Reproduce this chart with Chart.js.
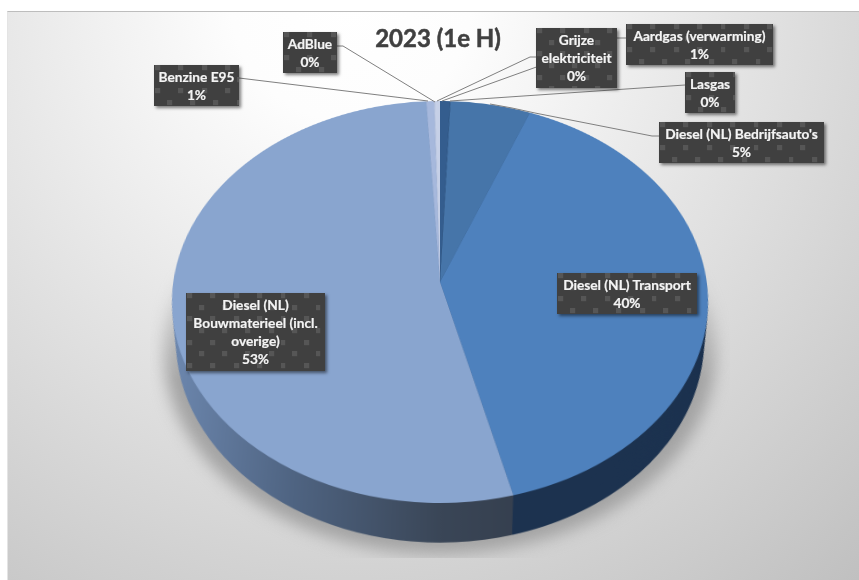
<!DOCTYPE html>
<html>
<head>
<meta charset="utf-8">
<title>2023 (1e H)</title>
<script src="https://cdn.jsdelivr.net/npm/chart.js@4"></script>
<style>
  html, body { margin: 0; padding: 0; background: #fff; overflow: hidden; }
  #stage { position: relative; width: 859px; height: 580px; overflow: hidden; font-family: Lato, "Open Sans", sans-serif; }
  #plate {
    position: absolute; left: 7px; top: 11px; right: 0; bottom: 0;
    border-left: 1px solid #e4e4e4; border-top: 1px solid #bdbdbd;
    background: radial-gradient(circle 800px at 343px -11px, #fff 0%, #fdfdfd 15%, #bdbdbd 100%);
  }
  #shadowBox { position: absolute; left: 150px; top: 200px; width: 580px; height: 358px; overflow: hidden;
    -webkit-mask-image: linear-gradient(to bottom, transparent 50px, #000 180px); mask-image: linear-gradient(to bottom, transparent 50px, #000 180px); }
  #shadowDisc { position: absolute; left: 14px; top: -50px; width: 552px; height: 404px; border-radius: 50%; background: #a3a3a3; filter: blur(8px); }
  #chart { position: absolute; left: 140px; top: -18px; transform-origin: 300px 300px; }
  #leaders { position: absolute; left: 0; top: 0; }
  #title { position: absolute; left: 338px; top: 22px; width: 200px; text-align: center; font-size: 24px; font-weight: 700; color: #404040; line-height: 32px; -webkit-text-stroke: 0.5px #404040; }
  .tag {
    position: absolute; box-sizing: border-box; color: #f4f4f4; font-size: 13.7px; font-weight: 700; line-height: 18px;
    text-align: center; padding: 3px 2px 0; background-color: #404040;
    background-image: url("data:image/svg+xml,%3Csvg xmlns='http://www.w3.org/2000/svg' width='23.4' height='23.4'%3E%3Crect x='1' y='0' width='5' height='5' fill='%23565656'/%3E%3Crect x='12.7' y='11.7' width='5' height='5' fill='%23565656'/%3E%3C/svg%3E");
    box-shadow: 2px 2px 3px rgba(0,0,0,.5);
    -webkit-text-stroke: 0.2px #f4f4f4;
  }
</style>
</head>
<body>
<div id="stage">
  <div id="plate"></div>
  <div id="shadowBox"><div id="shadowDisc"></div></div>
  <canvas id="chart" width="600" height="700"></canvas>
  <svg id="leaders" width="859" height="580"></svg>
  <div id="title"></div>
</div>
<script>
const chartTitle = "2023 (1e H)";
const categories = ["Aardgas (verwarming)", "Lasgas", "Diesel (NL) Bedrijfsauto's", "Diesel (NL) Transport", "Diesel (NL) Bouwmaterieel (incl. overige)", "Benzine E95", "AdBlue", "Grijze elektriciteit"];
const shares = [0.65, 0.05, 5.3, 40, 53.1, 0.5, 0.05, 0.35];
const shareLabels = ["1%", "0%", "5%", "40%", "53%", "1%", "0%", "0%"];

// looks
const topColors = ["#345d8e", "#3a6698", "#4675a9", "#4e81bd", "#89a5cf", "#a6b8dc", "#bcc8e3", "#c6d0e7"];
const wallColors = ["#1a2c46", "#1a2c46", "#1a2c46", "#1d3350", null, "#6c86ad", "#6c86ad", "#6c86ad"];

// label boxes [left, top, width, height], same order as categories
const tagBoxes = [
  [626, 24, 147, 41], [685, 72, 50, 41], [659, 122, 165, 41], [557, 273, 140, 41],
  [186, 293, 139, 78], [154, 65, 85, 41], [283, 32, 54, 41], [536, 28, 81, 60]
];
const leaderLines = [
  [[626, 38], [617, 38], [442, 101]],
  [[685, 85], [450, 101]],
  [[659, 136], [652, 136], [535, 113], [512, 108], [490, 104]],
  [[239, 78], [428, 101]],
  [[337, 46], [343, 46], [435, 102]],
  [[536, 57], [530, 57], [437, 101]]
];

// pinhole view of the flat pie: apex ends up at 440,282, rim top 101, rim bottom 503
const R = 270;
const view = { sx: 266.7 / R, sy: 199 / R, w: -0.0995 / R };
const WALL_DEPTH = 52;
const WALL_SHRINK = 0.034;

document.getElementById("chart").style.transform =
  `matrix3d(${view.sx},0,0,0, 0,${view.sy},0,${view.w}, 0,0,1,0, 0,0,0,1)`;

document.getElementById("title").textContent = chartTitle;

const svg = document.getElementById("leaders");
leaderLines.forEach(pts => {
  const line = document.createElementNS("http://www.w3.org/2000/svg", "polyline");
  line.setAttribute("points", pts.map(p => p.join(",")).join(" "));
  line.setAttribute("fill", "none");
  line.setAttribute("stroke", "#7f7f7f");
  line.setAttribute("stroke-width", "1");
  svg.appendChild(line);
});

const stage = document.getElementById("stage");
categories.forEach((name, i) => {
  const tag = document.createElement("div");
  tag.className = "tag";
  const box = tagBoxes[i];
  tag.style.left = box[0] + "px";
  tag.style.top = box[1] + "px";
  tag.style.width = box[2] + "px";
  tag.style.height = box[3] + "px";
  tag.innerHTML = name + "<br>" + shareLabels[i];
  stage.appendChild(tag);
});

// side wall of the pie, swept down from the arcs the library laid out
const wallPlugin = {
  id: "wall",
  beforeDatasetsDraw(chart) {
    const ctx = chart.ctx;
    const arcs = chart.getDatasetMeta(0).data;
    const cx = arcs[0].x;
    const grad = ctx.createLinearGradient(cx - R, 0, cx + R, 0);
    grad.addColorStop(0, "#6f8ab2");
    grad.addColorStop(0.25, "#4f6482");
    grad.addColorStop(0.5, "#3a4657");
    grad.addColorStop(0.65, "#353f4e");
    grad.addColorStop(1, "#353f4e");
    for (let d = WALL_DEPTH; d > 0; d--) {
      const shrink = 1 - WALL_SHRINK * d / WALL_DEPTH;
      arcs.forEach((arc, i) => {
        ctx.beginPath();
        ctx.moveTo(arc.x, arc.y + d);
        ctx.arc(arc.x, arc.y + d, arc.outerRadius * shrink, arc.startAngle, arc.endAngle);
        ctx.closePath();
        ctx.fillStyle = wallColors[i] || grad;
        ctx.fill();
      });
    }
  }
};

new Chart(document.getElementById("chart"), {
  type: "pie",
  data: {
    labels: categories,
    datasets: [{ data: shares, backgroundColor: topColors, borderWidth: 0 }]
  },
  options: {
    responsive: false,
    animation: false,
    devicePixelRatio: 2,
    layout: { padding: { left: 30, right: 30, top: 30, bottom: 130 } },
    plugins: { legend: { display: false }, tooltip: { enabled: false } }
  },
  plugins: [wallPlugin]
});
</script>
</body>
</html>
